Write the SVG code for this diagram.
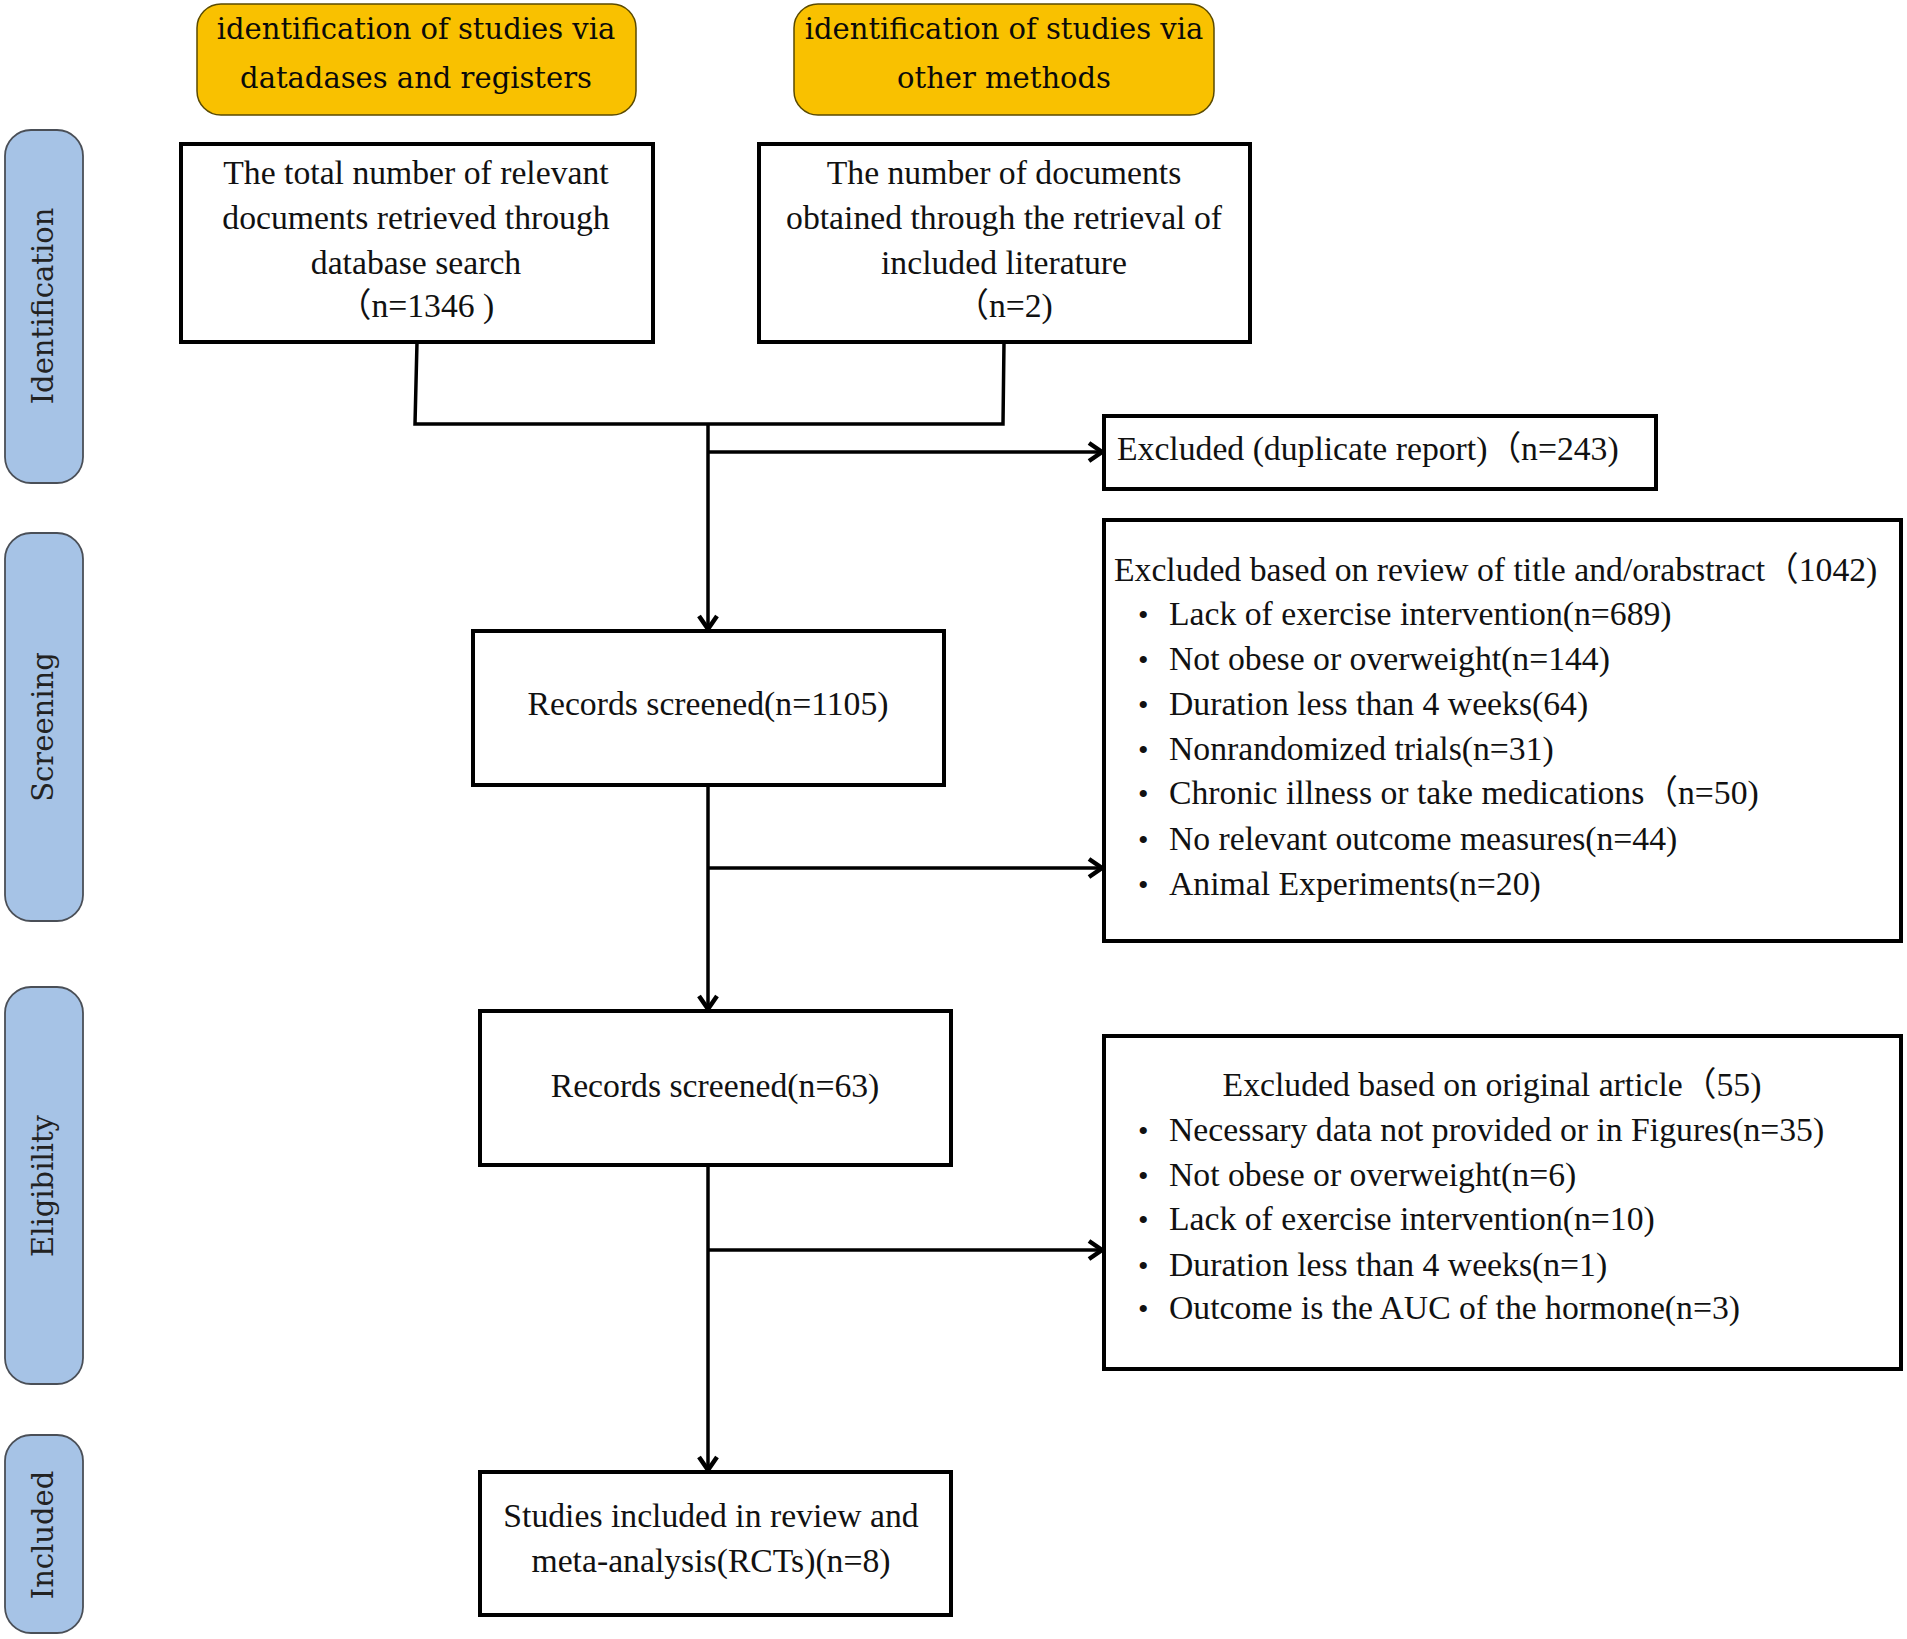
<svg xmlns="http://www.w3.org/2000/svg" width="1907" height="1639" viewBox="0 0 1907 1639">
<style>
.box{fill:#fff;stroke:#000;stroke-width:4}
.yel{fill:#F9C100;stroke:#5a4a00;stroke-width:1.5}
.tab{fill:#A6C3E6;stroke:#4a4f57;stroke-width:1.8}
.t{font-family:"Liberation Serif","Times New Roman","Noto Sans CJK SC",serif;font-size:33.7px;fill:#111}
.c{text-anchor:middle}
.h{font-family:"DejaVu Serif",serif;font-size:29px;fill:#0a0a0a;text-anchor:middle}
.tb{font-family:"DejaVu Serif",serif;font-size:29px;fill:#222;text-anchor:middle}
.b{font-family:"Liberation Serif",serif;font-size:30px;fill:#111}
.ln{fill:none;stroke:#000;stroke-width:3.5}
</style>
<defs>
<marker id="arr" markerUnits="userSpaceOnUse" markerWidth="30" markerHeight="30" viewBox="0 0 30 30" refX="25" refY="15" orient="auto">
<path d="M12,6 L25,15 L12,24" fill="none" stroke="#000" stroke-width="4.5" stroke-linejoin="miter"/>
</marker>
</defs>

<g id="header-databases">
<rect class="yel" x="197" y="4" width="439" height="111" rx="24"/>
<text class="h" x="416" y="39">identification of studies via</text>
<text class="h" x="416" y="88">datadases and registers</text>
</g>
<g id="header-other">
<rect class="yel" x="794" y="4" width="420" height="111" rx="24"/>
<text class="h" x="1004" y="39">identification of studies via</text>
<text class="h" x="1004" y="88">other methods</text>
</g>

<g id="tab-identification">
<rect class="tab" x="5" y="130" width="78" height="353" rx="26"/>
<text class="tb" transform="translate(53,306) rotate(-90)">Identification</text>
</g>
<g id="tab-screening">
<rect class="tab" x="5" y="533" width="78" height="388" rx="26"/>
<text class="tb" transform="translate(53,727) rotate(-90)">Screening</text>
</g>
<g id="tab-eligibility">
<rect class="tab" x="5" y="987" width="78" height="397" rx="26"/>
<text class="tb" transform="translate(53,1186) rotate(-90)">Eligibility</text>
</g>
<g id="tab-included">
<rect class="tab" x="5" y="1435" width="78" height="198" rx="26"/>
<text class="tb" transform="translate(53,1535) rotate(-90)">Included</text>
</g>

<g id="box-database">
<rect class="box" x="181" y="144" width="472" height="198"/>
<text class="t c" x="416" y="184">The total number of relevant</text>
<text class="t c" x="416" y="229">documents retrieved through</text>
<text class="t c" x="416" y="274">database search</text>
<text class="t c" x="416" y="317">（n=1346 )</text>
</g>
<g id="box-other">
<rect class="box" x="759" y="144" width="491" height="198"/>
<text class="t c" x="1004" y="184">The number of documents</text>
<text class="t c" x="1004" y="229">obtained through the retrieval of</text>
<text class="t c" x="1004" y="274">included literature</text>
<text class="t c" x="1004" y="317">（n=2)</text>
</g>

<g id="box-duplicate">
<rect class="box" x="1104" y="416" width="552" height="73"/>
<text class="t" x="1117" y="460">Excluded (duplicate report)（n=243)</text>
</g>

<g id="box-excluded-title">
<rect class="box" x="1104" y="520" width="797" height="421"/>
<text class="t" x="1114" y="581">Excluded based on review of title and/orabstract（1042)</text>
<text class="b" x="1138" y="625">•</text><text class="t" x="1169" y="625">Lack of exercise intervention(n=689)</text>
<text class="b" x="1138" y="670">•</text><text class="t" x="1169" y="670">Not obese or overweight(n=144)</text>
<text class="b" x="1138" y="715">•</text><text class="t" x="1169" y="715">Duration less than 4 weeks(64)</text>
<text class="b" x="1138" y="760">•</text><text class="t" x="1169" y="760">Nonrandomized trials(n=31)</text>
<text class="b" x="1138" y="804">•</text><text class="t" x="1169" y="804">Chronic illness or take medications（n=50)</text>
<text class="b" x="1138" y="850">•</text><text class="t" x="1169" y="850">No relevant outcome measures(n=44)</text>
<text class="b" x="1138" y="895">•</text><text class="t" x="1169" y="895">Animal Experiments(n=20)</text>
</g>

<g id="box-screened-1105">
<rect class="box" x="473" y="631" width="471" height="154"/>
<text class="t c" x="708" y="715">Records screened(n=1105)</text>
</g>

<g id="box-screened-63">
<rect class="box" x="480" y="1011" width="471" height="154"/>
<text class="t c" x="715" y="1097">Records screened(n=63)</text>
</g>

<g id="box-excluded-article">
<rect class="box" x="1104" y="1036" width="797" height="333"/>
<text class="t c" x="1492" y="1096">Excluded based on original article（55)</text>
<text class="b" x="1138" y="1141">•</text><text class="t" x="1169" y="1141">Necessary data not provided or in Figures(n=35)</text>
<text class="b" x="1138" y="1186">•</text><text class="t" x="1169" y="1186">Not obese or overweight(n=6)</text>
<text class="b" x="1138" y="1230">•</text><text class="t" x="1169" y="1230">Lack of exercise intervention(n=10)</text>
<text class="b" x="1138" y="1276">•</text><text class="t" x="1169" y="1276">Duration less than 4 weeks(n=1)</text>
<text class="b" x="1138" y="1319">•</text><text class="t" x="1169" y="1319">Outcome is the AUC of the hormone(n=3)</text>
</g>

<g id="box-included">
<rect class="box" x="480" y="1472" width="471" height="143"/>
<text class="t c" x="711" y="1527">Studies included in review and</text>
<text class="t c" x="711" y="1572">meta-analysis(RCTs)(n=8)</text>
</g>

<g id="connectors">
<polyline class="ln" points="417,342 415,424 1003,424 1004,342"/>
<line class="ln" x1="708" y1="424" x2="708" y2="629" marker-end="url(#arr)"/>
<line class="ln" x1="708" y1="452" x2="1102" y2="452" marker-end="url(#arr)"/>
<line class="ln" x1="708" y1="785" x2="708" y2="1009" marker-end="url(#arr)"/>
<line class="ln" x1="708" y1="868" x2="1102" y2="868" marker-end="url(#arr)"/>
<line class="ln" x1="708" y1="1165" x2="708" y2="1470" marker-end="url(#arr)"/>
<line class="ln" x1="708" y1="1250" x2="1102" y2="1250" marker-end="url(#arr)"/>
</g>
</svg>
